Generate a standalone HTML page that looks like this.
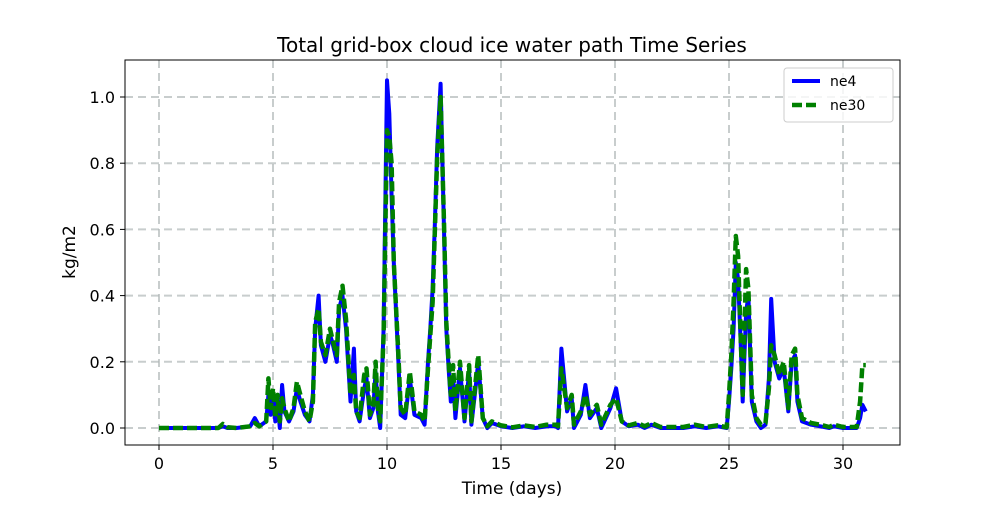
<!DOCTYPE html>
<html><head><meta charset="utf-8"><style>
body{margin:0;background:#fff;font-family:"Liberation Sans","DejaVu Sans",sans-serif}
</style></head><body>
<svg id="chart" width="1000" height="500" xmlns="http://www.w3.org/2000/svg" font-family="'DejaVu Sans','Liberation Sans',sans-serif">
<rect width="1000" height="500" fill="#fff"/>
<g id="grid"></g>
<g id="series"></g>
<rect x="125" y="60" width="775" height="385" fill="none" stroke="#000" stroke-width="1"/>
<g id="xticks"></g>
<g id="yticks"></g>
<text x="512" y="52" text-anchor="middle" font-size="20">Total grid-box cloud ice water path Time Series</text>
<text x="512" y="494" text-anchor="middle" font-size="17">Time (days)</text>
<text transform="translate(75,252) rotate(-90)" text-anchor="middle" font-size="17">kg/m2</text>
<g>
<rect x="784" y="68" width="109" height="54" rx="3" fill="#fff" fill-opacity="0.8" stroke="#ccc"/>
<line x1="792" y1="81" x2="820" y2="81" stroke="#0000ff" stroke-width="4"/>
<text x="830" y="86" font-size="14">ne4</text>
<line x1="792" y1="105" x2="820" y2="105" stroke="#008000" stroke-width="4.5" stroke-dasharray="10,4"/>
<text x="830" y="110" font-size="14">ne30</text>
</g>
</svg>
<script>
const days = [0,1,2,2.6,2.8,3.0,3.4,4.0,4.2,4.4,4.7,4.8,4.9,5.0,5.1,5.2,5.3,5.4,5.5,5.7,5.9,6.05,6.2,6.4,6.6,6.75,6.85,7.0,7.1,7.3,7.5,7.6,7.8,7.9,8.05,8.2,8.4,8.55,8.65,8.8,9.0,9.1,9.25,9.4,9.5,9.6,9.7,9.85,10.0,10.1,10.2,10.3,10.5,10.6,10.8,11.0,11.2,11.5,11.65,11.8,11.9,12.0,12.1,12.2,12.35,12.5,12.6,12.7,12.8,12.9,13.0,13.2,13.4,13.6,13.7,13.9,14.0,14.2,14.4,14.6,15.0,15.5,16,16.5,17.0,17.4,17.5,17.65,17.9,18.1,18.2,18.5,18.7,18.9,19.2,19.4,19.8,20.05,20.3,20.6,21.0,21.3,21.6,22.0,23.0,23.5,24.0,24.5,24.9,25.0,25.1,25.2,25.3,25.4,25.5,25.6,25.75,25.85,26.0,26.2,26.4,26.6,26.75,26.85,27.0,27.2,27.4,27.6,27.75,27.9,28.0,28.2,28.6,29.0,29.4,29.6,30.0,30.6,30.75,30.85,31.0];
const ne4 = [0,0,0,0,0.005,0,0,0.005,0.03,0.005,0.02,0.1,0.04,0.1,0.02,0.08,0,0.13,0.05,0.02,0.05,0.12,0.08,0.04,0.02,0.1,0.3,0.4,0.25,0.2,0.28,0.26,0.2,0.36,0.4,0.3,0.08,0.24,0.05,0.02,0.12,0.15,0.03,0.06,0.17,0.05,0,0.3,1.05,0.95,0.7,0.5,0.2,0.04,0.03,0.15,0.04,0.03,0.01,0.2,0.3,0.42,0.62,0.85,1.04,0.6,0.3,0.18,0.08,0.15,0.03,0.18,0.02,0.17,0.01,0.13,0.2,0.03,0,0.015,0.005,0,0.005,0,0.005,0.005,0,0.24,0.05,0.09,0,0.04,0.13,0.03,0.06,0,0.06,0.12,0.02,0.005,0.01,0,0.01,0,0,0.005,0,0.005,0,0.08,0.18,0.3,0.5,0.45,0.28,0.08,0.35,0.4,0.08,0.02,0,0.01,0.15,0.39,0.2,0.15,0.18,0.05,0.2,0.22,0.08,0.02,0.01,0.005,0,0.005,0,0,0.03,0.07,0.05];
const ne30 = [0,0,0,0,0.012,0.002,0,0.005,0.015,0.005,0.02,0.15,0.06,0.12,0.03,0.1,0.02,0.09,0.06,0.02,0.06,0.14,0.1,0.05,0.02,0.08,0.32,0.36,0.26,0.22,0.3,0.27,0.22,0.38,0.43,0.33,0.1,0.16,0.05,0.03,0.16,0.18,0.04,0.07,0.2,0.06,0.02,0.28,0.9,0.88,0.8,0.5,0.22,0.06,0.04,0.17,0.05,0.04,0.02,0.18,0.28,0.38,0.6,0.82,1.0,0.62,0.32,0.2,0.1,0.19,0.05,0.2,0.03,0.19,0.02,0.15,0.22,0.03,0.005,0.02,0.008,0.002,0.008,0.003,0.01,0.01,0.005,0.18,0.06,0.1,0.01,0.05,0.1,0.04,0.07,0.01,0.07,0.09,0.02,0.008,0.015,0.005,0.015,0.003,0.003,0.01,0.003,0.008,0.002,0.1,0.22,0.38,0.58,0.52,0.3,0.1,0.48,0.42,0.1,0.03,0.01,0.015,0.12,0.25,0.22,0.16,0.2,0.06,0.22,0.24,0.1,0.03,0.015,0.01,0.003,0.01,0.003,0.003,0.08,0.19,0.19];
const xTicks = [0,5,10,15,20,25,30];
const yTicks = [0.0,0.2,0.4,0.6,0.8,1.0];
const yTickLabels = ["0.0","0.2","0.4","0.6","0.8","1.0"];

const NS='http://www.w3.org/2000/svg';
const X = d => 159 + d*22.8;
const Y = v => 428 - v*331;
function mk(tag, attrs, parent){const e=document.createElementNS(NS,tag);for(const k in attrs)e.setAttribute(k,attrs[k]);parent.appendChild(e);return e;}
const grid=document.getElementById('grid'), xt=document.getElementById('xticks'), yt=document.getElementById('yticks'), sr=document.getElementById('series');
xTicks.forEach(t=>{
  const g=mk('line',{x1:X(t),x2:X(t),y1:60,y2:445,stroke:'#b0b8b8','stroke-width':2,'stroke-dasharray':'8,5','stroke-opacity':0.7},grid);
  
  
  const l=mk('line',{x1:X(t),x2:X(t),y1:445,y2:450,stroke:'#000'},xt);
  
  
  const tx=mk('text',{x:X(t),y:469,'text-anchor':'middle','font-size':16},xt);
  tx.textContent=String(t);
  
  
});
yTicks.forEach((t,i)=>{
  const g=mk('line',{x1:125,x2:900,y1:Y(t),y2:Y(t),stroke:'#b0b8b8','stroke-width':2,'stroke-dasharray':'8,5','stroke-opacity':0.7},grid);
  
  
  const l=mk('line',{x1:120,x2:125,y1:Y(t),y2:Y(t),stroke:'#000'},yt);
  
  
  const tx=mk('text',{x:115,y:Y(t)+6,'text-anchor':'end','font-size':16},yt);
  tx.textContent=yTickLabels[i];
  
  
});
function pts(vals){return days.map((d,i)=>X(d).toFixed(1)+','+Y(vals[i]).toFixed(1)).join(' ');}
const p1=mk('polyline',{points:pts(ne4),fill:'none',stroke:'#0000ff','stroke-width':4,'stroke-linejoin':'round'},sr);


const p2=mk('polyline',{points:pts(ne30),fill:'none',stroke:'#008000','stroke-width':4.5,'stroke-dasharray':'10,4','stroke-linejoin':'round'},sr);


</script>
</body></html>
